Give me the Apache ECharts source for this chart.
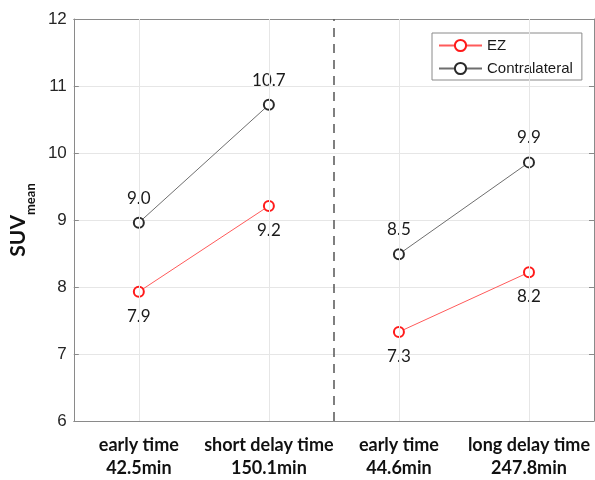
<!DOCTYPE html>
<html>
<head>
<meta charset="utf-8">
<script src="https://cdn.jsdelivr.net/npm/echarts@6/dist/echarts.min.js"></script>
<style>
  html, body { margin: 0; padding: 0; background: #fff; }
  #chart { width: 595px; height: 480px; }
</style>
</head>
<body>
<div id="chart"></div>
<script>
// x categories (two-line labels)
var phases = ['early time', 'short delay time', 'early time', 'long delay time'];
var times = ['42.5min', '150.1min', '44.6min', '247.8min'];

// SUVmean values, one per category
var ezValues = [7.93, 9.21, 7.33, 8.22];
var contraValues = [8.96, 10.72, 8.49, 9.86];

// y ticks
var yTicks = [6, 7, 8, 9, 10, 11, 12];

// vertical grid lines / separator on the hidden 0..4 axis
var gridPositions = [0.5, 1.5, 2.5, 3.5];
var separatorAt = 2;

var categories = phases.map(function (p, i) { return p + '\n' + times[i]; });

// split a series into the two protocol groups (1-2 and 3-4)
function groupData(values, g) {
	return values.map(function (v, i) {
		return Math.floor(i / 2) === g ? v : null;
	});
}

function makeSeries(name, values, g, lineColor, markColor, labelPos) {
	return {
		name: name,
		type: 'line',
		data: groupData(values, g),
		symbol: 'emptyCircle',
		symbolSize: 10,
		z: 3,
		lineStyle: { color: lineColor, width: 1 },
		itemStyle: { color: markColor, borderColor: markColor, borderWidth: 1 },
		label: {
			show: true,
			position: labelPos,
			distance: 10,
			fontFamily: 'Lato',
			fontSize: 17,
			color: '#1a1a1a',
			formatter: function (p) { return Number(p.value).toFixed(1); }
		},
		emphasis: { disabled: true }
	};
}

var chart = echarts.init(document.getElementById('chart'));

var axisColor = '#8a8a8a';

chart.setOption({
	animation: false,
	grid: { left: 68, right: 1, top: 19, bottom: 55 },
	legend: {
		data: ['EZ', 'Contralateral'],
		orient: 'vertical',
		left: 432,
		top: 33,
		padding: [5, 9, 4, 6],
		itemGap: 8,
		itemWidth: 43,
		itemHeight: 14,
		backgroundColor: '#fff',
		borderColor: '#8a8a8a',
		borderWidth: 1,
		textStyle: { fontFamily: 'Liberation Sans', fontSize: 15, color: '#1a1a1a' }
	},
	xAxis: [{
		type: 'category',
		data: categories,
		boundaryGap: true,
		axisLine: { lineStyle: { color: axisColor } },
		axisTick: { inside: true, alignWithLabel: true, length: 5, lineStyle: { color: axisColor } },
		splitLine: { show: false },
		axisLabel: {
			interval: 0,
			margin: 13,
			fontFamily: 'Lato',
			fontWeight: 'bold',
			fontSize: 18,
			lineHeight: 23,
			color: '#111'
		}
	}, {
		type: 'category',
		data: categories,
		position: 'top',
		boundaryGap: true,
		axisLine: { lineStyle: { color: axisColor } },
		axisTick: { inside: true, alignWithLabel: true, length: 5, lineStyle: { color: axisColor } },
		axisLabel: { show: false },
		splitLine: { show: false }
	}, {
		type: 'value',
		min: 0,
		max: 4,
		show: false
	}],
	yAxis: [{
		type: 'value',
		min: yTicks[0],
		max: yTicks[yTicks.length - 1],
		interval: 1,
		name: '{a|SUV}{b|mean}',
		nameLocation: 'middle',
		nameRotate: 90,
		nameGap: 38,
		nameTextStyle: {
			rich: {
				a: { fontFamily: 'Lato', fontWeight: 'bold', fontSize: 21, color: '#111' },
				b: { fontFamily: 'Lato', fontWeight: 'bold', fontSize: 13, color: '#111', verticalAlign: 'bottom', padding: [0, 0, -8, 0] }
			}
		},
		axisLine: { show: true, lineStyle: { color: axisColor } },
		axisTick: { show: true, inside: true, length: 5, lineStyle: { color: axisColor } },
		splitLine: { show: true, lineStyle: { color: '#e6e6e6', width: 1 } },
		axisLabel: {
			margin: 7,
			fontFamily: 'Liberation Sans',
			fontSize: 17,
			color: '#262626'
		}
	}, {
		type: 'value',
		position: 'right',
		min: yTicks[0],
		max: yTicks[yTicks.length - 1],
		interval: 1,
		axisLine: { show: true, lineStyle: { color: axisColor } },
		axisTick: { show: true, inside: true, length: 5, lineStyle: { color: axisColor } },
		axisLabel: { show: false },
		splitLine: { show: false }
	}],
	series: [
		{
			name: 'guides',
			type: 'line',
			xAxisIndex: 2,
			data: [],
			z: 1,
			silent: true,
			markLine: {
				silent: true,
				symbol: 'none',
				label: { show: false },
				lineStyle: { color: '#e6e6e6', type: 'solid', width: 1 },
				data: gridPositions.map(function (x) { return { xAxis: x }; }).concat([{
					xAxis: separatorAt,
					lineStyle: { color: '#555', type: [9, 7], width: 1.5 }
				}])
			}
		},
		makeSeries('EZ', ezValues, 0, '#ff5a5a', '#ff1a1a', 'bottom'),
		makeSeries('EZ', ezValues, 1, '#ff5a5a', '#ff1a1a', 'bottom'),
		makeSeries('Contralateral', contraValues, 0, '#6e6e6e', '#2a2a2a', 'top'),
		makeSeries('Contralateral', contraValues, 1, '#6e6e6e', '#2a2a2a', 'top')
	]
});
</script>
</body>
</html>
